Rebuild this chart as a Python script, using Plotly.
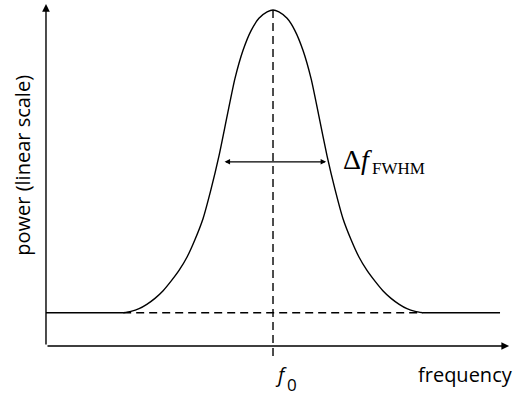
import plotly.graph_objects as go

# Spectral line profile (arbitrary units): frequency vs. power on a flat background
freq = [1.70, 1.87, 2.05, 2.22, 2.40, 2.58, 2.75, 2.93, 3.11, 3.28, 3.46, 3.63,
        3.81, 3.99, 4.16, 4.34, 4.52, 4.69, 4.87, 5.00,
        5.13, 5.31, 5.48, 5.66, 5.84, 6.01, 6.19, 6.37, 6.54, 6.72, 6.89, 7.07,
        7.25, 7.42, 7.60, 7.78, 7.95, 8.13, 8.30]
power = [1.00, 1.04, 1.12, 1.25, 1.43, 1.66, 1.94, 2.27, 2.68, 3.19, 3.83, 4.68,
         5.71, 6.91, 8.02, 8.88, 9.48, 9.84, 10.03, 10.09,
         10.03, 9.84, 9.48, 8.88, 8.02, 6.91, 5.71, 4.68, 3.83, 3.19, 2.68, 2.27,
         1.94, 1.66, 1.43, 1.25, 1.12, 1.04, 1.00]

background = 1.0
freq_min, freq_max = 0.0, 10.0
f0 = 5.0
fwhm_lo, fwhm_hi = 3.90, 6.17
half_max = 5.53

X_RANGE = [-1.013, 10.396]
Y_RANGE = [-1.471, 10.39]

ink = "#000000"
lw = 1.4
sans = "Open Sans, Noto Sans, sans-serif"
serif = "Liberation Serif, Times New Roman, serif"

fig = go.Figure()

# background level outside the line
fig.add_trace(go.Scatter(x=[freq_min, freq[0]], y=[background, background], mode="lines",
                         line=dict(color=ink, width=lw), hoverinfo="skip"))
fig.add_trace(go.Scatter(x=[freq[-1], freq_max], y=[background, background], mode="lines",
                         line=dict(color=ink, width=lw), hoverinfo="skip"))
# background continued under the line (dashed)
fig.add_trace(go.Scatter(x=[freq[0], freq[-1]], y=[background, background], mode="lines",
                         line=dict(color=ink, width=lw, dash="8px,5px"), hoverinfo="skip"))
# centre frequency marker
fig.add_trace(go.Scatter(x=[f0, f0], y=[max(power), -0.38], mode="lines",
                         line=dict(color=ink, width=lw, dash="8px,5px"), hoverinfo="skip"))
# the line profile
fig.add_trace(go.Scatter(x=freq, y=power, mode="lines",
                         line=dict(color=ink, width=lw, shape="spline", smoothing=0.6),
                         hoverinfo="skip"))

annotations = [
    # axes with arrow heads
    dict(x=10.2, y=0, ax=0, ay=0, xref="x", yref="y", axref="x", ayref="y",
         showarrow=True, arrowhead=2, arrowsize=1.1, arrowwidth=lw, arrowcolor=ink,
         standoff=0, text=""),
    dict(x=0, y=10.27, ax=0, ay=0, xref="x", yref="y", axref="x", ayref="y",
         showarrow=True, arrowhead=2, arrowsize=1.1, arrowwidth=lw, arrowcolor=ink,
         standoff=0, text=""),
    # FWHM double arrow
    dict(x=fwhm_hi, y=half_max, ax=fwhm_lo, ay=half_max, xref="x", yref="y",
         axref="x", ayref="y", showarrow=True, arrowhead=2, startarrowhead=2,
         arrowside="end+start", arrowsize=1.0, startarrowsize=1.0, arrowwidth=1.1,
         arrowcolor=ink, standoff=0, startstandoff=0, text=""),
    # axis labels
    dict(x=-0.51, y=5.44, xref="x", yref="y", text="power (linear scale)", textangle=-90,
         showarrow=False, font=dict(family=sans, size=20, color=ink)),
    dict(x=9.23, y=-0.85, xref="x", yref="y", text="frequency", xanchor="center",
         showarrow=False, font=dict(family=sans, size=20, color=ink)),
    # f0 label under the centre marker
    dict(x=5.18, y=-0.87, xref="x", yref="y", xanchor="center", text="<i>f</i>",
         showarrow=False, font=dict(family=sans, size=20, color=ink)),
    dict(x=5.42, y=-1.16, xref="x", yref="y", xanchor="center", text="0",
         showarrow=False, font=dict(family=sans, size=17, color=ink)),
    # FWHM label
    dict(x=6.50, y=5.60, xref="x", yref="y", xanchor="left", text="Δ<i>f</i>",
         showarrow=False, font=dict(family=serif, size=28, color=ink)),
    dict(x=7.13, y=5.32, xref="x", yref="y", xanchor="left", text="FWHM",
         showarrow=False, font=dict(family=serif, size=17, color=ink)),
]

fig.update_layout(
    width=518, height=395,
    margin=dict(l=0, r=0, t=0, b=0),
    paper_bgcolor="white", plot_bgcolor="white",
    showlegend=False,
    xaxis=dict(range=X_RANGE, visible=False, fixedrange=True),
    yaxis=dict(range=Y_RANGE, visible=False, fixedrange=True),
    annotations=annotations,
)

fig.write_html("out.html")
